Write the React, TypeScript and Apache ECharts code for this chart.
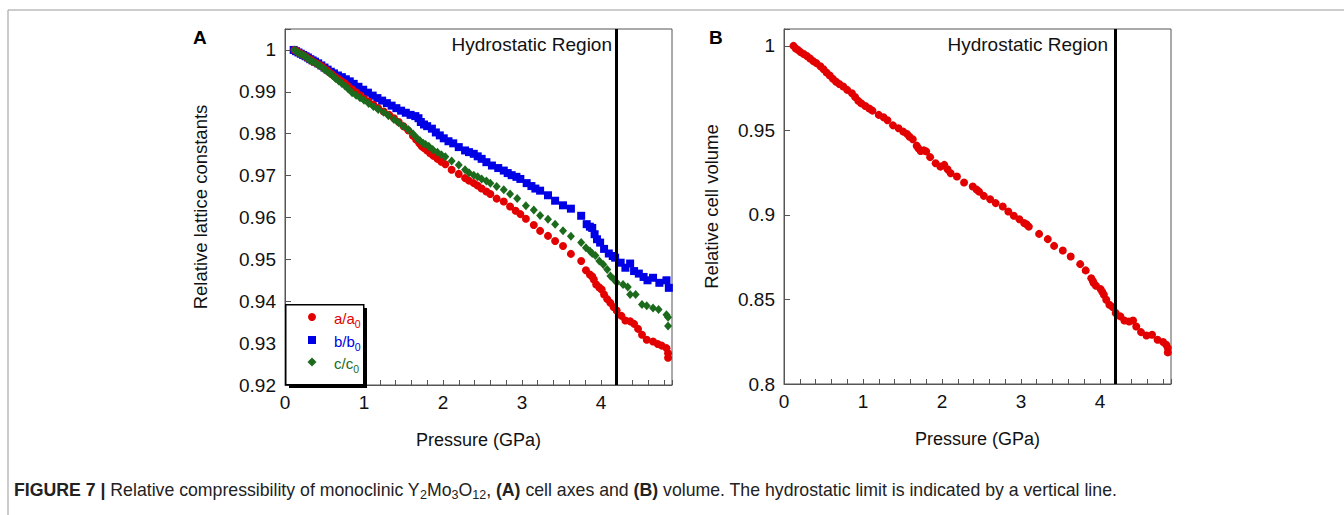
import React, { useEffect, useRef } from "react";
import * as echarts from "echarts";

// ---- Data ----
const pressureA = [0.12,0.15,0.18,0.21,0.24,0.27,0.30,0.33,0.36,0.40,0.44,0.48,0.52,0.56,0.60,0.64,0.68,0.72,0.76,0.80,0.85,0.90,0.95,1.00,1.06,1.12,1.18,1.25,1.32,1.38,1.44,1.50,1.56,1.62,1.66,1.70,1.73,1.76,1.80,1.84,1.88,1.93,1.98,2.03,2.11,2.20,2.28,2.33,2.39,2.44,2.49,2.55,2.60,2.68,2.77,2.85,2.92,2.98,3.05,3.15,3.23,3.33,3.42,3.52,3.62,3.75,3.81,3.86,3.89,3.91,3.94,3.98,4.01,4.04,4.08,4.12,4.16,4.20,4.26,4.31,4.37,4.42,4.47,4.52,4.58,4.66,4.72,4.77,4.83,4.85,4.85];
const aRatio = [1.0000,0.9997,0.9993,0.9990,0.9987,0.9983,0.9979,0.9976,0.9972,0.9968,0.9964,0.9959,0.9953,0.9947,0.9941,0.9935,0.9930,0.9925,0.9920,0.9913,0.9906,0.9899,0.9892,0.9884,0.9877,0.9869,0.9861,0.9853,0.9845,0.9837,0.9828,0.9818,0.9808,0.9795,0.9786,0.9777,0.9770,0.9766,0.9760,0.9753,0.9747,0.9740,0.9733,0.9727,0.9714,0.9704,0.9694,0.9688,0.9682,0.9676,0.9669,0.9662,0.9656,0.9645,0.9638,0.9626,0.9616,0.9608,0.9597,0.9582,0.9568,0.9556,0.9544,0.9532,0.9513,0.9496,0.9474,0.9464,0.9459,0.9452,0.9440,0.9433,0.9428,0.9416,0.9405,0.9396,0.9386,0.9378,0.9365,0.9354,0.9352,0.9346,0.9334,0.9320,0.9308,0.9304,0.9298,0.9294,0.9288,0.9276,0.9265];

const pressureB = [0.11,0.14,0.17,0.20,0.23,0.26,0.29,0.32,0.35,0.38,0.42,0.46,0.50,0.54,0.58,0.62,0.67,0.72,0.77,0.82,0.87,0.93,0.99,1.05,1.11,1.17,1.23,1.29,1.35,1.41,1.47,1.53,1.59,1.65,1.69,1.72,1.76,1.80,1.86,1.91,1.96,2.01,2.07,2.13,2.20,2.28,2.33,2.39,2.44,2.49,2.55,2.62,2.70,2.77,2.82,2.87,2.93,2.98,3.06,3.12,3.17,3.23,3.33,3.42,3.52,3.62,3.75,3.82,3.86,3.89,3.92,3.95,3.99,4.04,4.10,4.15,4.18,4.25,4.31,4.37,4.42,4.48,4.54,4.59,4.66,4.74,4.83,4.86];
const bRatio = [1.0000,0.9997,0.9994,0.9991,0.9988,0.9985,0.9982,0.9978,0.9975,0.9972,0.9968,0.9963,0.9958,0.9953,0.9948,0.9944,0.9939,0.9935,0.9930,0.9925,0.9919,0.9912,0.9905,0.9898,0.9891,0.9885,0.9879,0.9873,0.9867,0.9861,0.9855,0.9850,0.9845,0.9842,0.9837,0.9828,0.9822,0.9818,0.9812,0.9803,0.9796,0.9789,0.9782,0.9777,0.9768,0.9760,0.9756,0.9752,0.9746,0.9740,0.9732,0.9724,0.9718,0.9712,0.9706,0.9701,0.9697,0.9692,0.9682,0.9675,0.9669,0.9664,0.9653,0.9640,0.9629,0.9621,0.9604,0.9584,0.9578,0.9575,0.9560,0.9548,0.9540,0.9525,0.9514,0.9508,0.9504,0.9492,0.9480,0.9490,0.9472,0.9466,0.9458,0.9450,0.9456,0.9444,0.9450,0.9432];

const pressureC = [0.12,0.15,0.18,0.21,0.24,0.27,0.30,0.33,0.36,0.40,0.44,0.48,0.52,0.56,0.60,0.64,0.68,0.72,0.76,0.80,0.85,0.90,0.95,1.00,1.06,1.12,1.18,1.25,1.31,1.38,1.44,1.50,1.56,1.62,1.67,1.71,1.75,1.78,1.82,1.87,1.93,1.98,2.03,2.11,2.20,2.28,2.33,2.39,2.44,2.49,2.55,2.60,2.68,2.77,2.85,2.94,3.05,3.15,3.23,3.33,3.42,3.52,3.62,3.75,3.81,3.86,3.89,3.93,3.98,4.03,4.08,4.12,4.16,4.20,4.28,4.34,4.37,4.44,4.52,4.58,4.66,4.73,4.83,4.85,4.85];
const cRatio = [1.0000,0.9996,0.9992,0.9989,0.9986,0.9982,0.9978,0.9975,0.9971,0.9967,0.9962,0.9957,0.9951,0.9945,0.9939,0.9932,0.9926,0.9920,0.9914,0.9907,0.9898,0.9892,0.9886,0.9880,0.9872,0.9865,0.9858,0.9851,0.9843,0.9834,0.9826,0.9818,0.9810,0.9800,0.9790,0.9783,0.9777,0.9774,0.9770,0.9762,0.9756,0.9750,0.9745,0.9735,0.9725,0.9714,0.9707,0.9701,0.9697,0.9692,0.9687,0.9682,0.9674,0.9666,0.9656,0.9645,0.9628,0.9618,0.9605,0.9596,0.9584,0.9568,0.9555,0.9540,0.9528,0.9520,0.9514,0.9509,0.9496,0.9488,0.9476,0.9460,0.9453,0.9445,0.9440,0.9434,0.9416,0.9416,0.9392,0.9389,0.9384,0.9380,0.9368,0.9362,0.9341];

const pressureV = [0.12,0.15,0.18,0.21,0.25,0.29,0.33,0.37,0.41,0.46,0.50,0.54,0.58,0.62,0.66,0.70,0.75,0.80,0.86,0.90,0.94,0.98,1.03,1.08,1.12,1.20,1.26,1.31,1.38,1.45,1.51,1.56,1.59,1.63,1.68,1.70,1.73,1.77,1.80,1.85,1.92,1.98,2.03,2.07,2.11,2.19,2.28,2.39,2.44,2.47,2.53,2.61,2.68,2.77,2.84,2.91,2.98,3.04,3.07,3.10,3.23,3.34,3.42,3.53,3.63,3.75,3.82,3.89,3.91,3.92,3.95,4.01,4.03,4.05,4.08,4.12,4.16,4.20,4.26,4.31,4.37,4.42,4.46,4.52,4.59,4.66,4.73,4.80,4.84,4.86,4.86];
const volumeRatio = [1.0000,0.9985,0.9975,0.9963,0.9952,0.9940,0.9925,0.9910,0.9898,0.9880,0.9862,0.9842,0.9825,0.9805,0.9788,0.9775,0.9760,0.9740,0.9720,0.9698,0.9675,0.9660,0.9645,0.9630,0.9617,0.9592,0.9578,0.9560,0.9530,0.9513,0.9493,0.9478,0.9463,0.9448,0.9410,0.9395,0.9378,0.9382,0.9376,0.9342,0.9306,0.9286,0.9296,0.9270,0.9247,0.9227,0.9192,0.9168,0.9150,0.9138,0.9113,0.9093,0.9070,0.9050,0.9020,0.8995,0.8975,0.8952,0.8945,0.8931,0.8888,0.8857,0.8817,0.8790,0.8754,0.8709,0.8672,0.8626,0.8610,0.8597,0.8581,0.8561,0.8545,0.8528,0.8498,0.8469,0.8455,0.8420,0.8400,0.8376,0.8370,0.8376,0.8340,0.8307,0.8287,0.8291,0.8262,0.8248,0.8232,0.8213,0.8187];

const hydrostaticLimit = 4.2;
const seriesNames = ["a/a0", "b/b0", "c/c0"];

const FONT = "'Liberation Sans', Arial, Helvetica, sans-serif";
const RED = "#e30000";
const BLUE = "#0000e6";
const GREEN = "#1c6a1c";
const AXIS = "#555";

const zip = (xs: number[], ys: number[]) => xs.map((x, i) => [x, ys[i]]);

function xAxisFor(gridIndex: number) {
  return {
    type: "value",
    gridIndex,
    min: 0,
    max: 4.9,
    interval: 0.2,
    name: "Pressure (GPa)",
    nameLocation: "middle",
    nameGap: 46,
    nameTextStyle: { fontSize: 18, color: "#111", fontFamily: FONT },
    axisLine: { show: true, lineStyle: { color: AXIS, width: 1 } },
    axisTick: { show: true, inside: true, length: 5, lineStyle: { color: AXIS } },
    splitLine: { show: false },
    axisLabel: {
      fontSize: 19,
      color: "#111",
      fontFamily: FONT,
      margin: 8,
      formatter: (v: number) =>
        Math.abs(v - Math.round(v)) < 1e-6 ? String(Math.round(v)) : "",
    },
  };
}

function yAxisFor(gridIndex: number, min: number, max: number, interval: number, name: string, nameGap: number) {
  return {
    type: "value",
    gridIndex,
    min,
    max,
    interval,
    name,
    nameLocation: "middle",
    nameGap,
    nameTextStyle: { fontSize: 18.5, color: "#111", fontFamily: FONT },
    axisLine: { show: true, lineStyle: { color: AXIS, width: 1 } },
    axisTick: { show: true, inside: true, length: 6, lineStyle: { color: AXIS } },
    splitLine: { show: false },
    axisLabel: {
      fontSize: 19,
      color: "#111",
      fontFamily: FONT,
      margin: 9,
      formatter: (v: number) => (v > 1.0001 ? "" : String(parseFloat(v.toFixed(2)))),
    },
  };
}

const vLine = {
  silent: true,
  symbol: ["none", "none"],
  label: { show: false },
  lineStyle: { color: "#000", width: 3, type: "solid" },
  data: [{ xAxis: hydrostaticLimit }],
};

export default function App() {
  const ref = useRef<HTMLDivElement>(null);

  useEffect(() => {
    if (!ref.current) return;
    const chart = echarts.init(ref.current, undefined, { renderer: "svg" });

    const legendEntries = [
      { label: "a/a", color: RED, y: 317, marker: "circle" },
      { label: "b/b", color: BLUE, y: 340, marker: "rect" },
      { label: "c/c", color: GREEN, y: 362, marker: "diamond" },
    ];

    const legendGraphics: any[] = [
      { type: "rect", left: 289, top: 308, shape: { width: 78, height: 80 }, style: { fill: "#000" }, z: 10 },
      { type: "rect", left: 285, top: 304, shape: { width: 78, height: 80 }, style: { fill: "#fff", stroke: "#000", lineWidth: 1.5 }, z: 11 },
    ];
    legendEntries.forEach((e) => {
      if (e.marker === "circle") {
        legendGraphics.push({ type: "circle", shape: { cx: 312, cy: e.y, r: 4 }, style: { fill: e.color }, z: 12 });
      } else if (e.marker === "rect") {
        legendGraphics.push({ type: "rect", shape: { x: 308, y: e.y - 4, width: 8, height: 8 }, style: { fill: e.color }, z: 12 });
      } else {
        legendGraphics.push({ type: "polygon", shape: { points: [[312, e.y - 4.5], [316.5, e.y], [312, e.y + 4.5], [307.5, e.y]] }, style: { fill: e.color }, z: 12 });
      }
      legendGraphics.push({
        type: "text",
        x: 334,
        y: e.y + 1,
        z: 12,
        style: {
          text: `{t|${e.label}}{s|0}`,
          fill: e.color,
          verticalAlign: "middle",
          rich: {
            t: { fontSize: 15, fontFamily: FONT, fill: e.color },
            s: { fontSize: 10.5, fontFamily: FONT, fill: e.color, padding: [11, 0, 0, 0] },
          },
        },
      });
    });

    const option: any = {
      animation: false,
      backgroundColor: "#fff",
      textStyle: { fontFamily: FONT },
      grid: [
        { left: 285, top: 29, width: 387, height: 356, show: true, borderColor: AXIS, borderWidth: 1, backgroundColor: "transparent" },
        { left: 784, top: 29, width: 387, height: 355, show: true, borderColor: AXIS, borderWidth: 1, backgroundColor: "transparent" },
      ],
      xAxis: [xAxisFor(0), xAxisFor(1)],
      yAxis: [
        yAxisFor(0, 0.92, 1.005, 0.01, "Relative lattice constants", 75),
        yAxisFor(1, 0.8, 1.01, 0.05, "Relative cell volume", 63),
      ],
      series: [
        {
          name: seriesNames[0], type: "scatter", xAxisIndex: 0, yAxisIndex: 0,
          symbol: "circle", symbolSize: 8, itemStyle: { color: RED, opacity: 1 },
          data: zip(pressureA, aRatio), z: 3,
          markLine: vLine,
        },
        {
          name: seriesNames[1], type: "scatter", xAxisIndex: 0, yAxisIndex: 0,
          symbol: "rect", symbolSize: 8, itemStyle: { color: BLUE, opacity: 1 },
          data: zip(pressureB, bRatio), z: 2,
        },
        {
          name: seriesNames[2], type: "scatter", xAxisIndex: 0, yAxisIndex: 0,
          symbol: "diamond", symbolSize: [8, 9], itemStyle: { color: GREEN, opacity: 1 },
          data: zip(pressureC, cRatio), z: 4,
        },
        {
          name: "V/V0", type: "scatter", xAxisIndex: 1, yAxisIndex: 1,
          symbol: "circle", symbolSize: 8, itemStyle: { color: RED, opacity: 1 },
          data: zip(pressureV, volumeRatio),
          markLine: vLine,
        },
      ],
      graphic: [
        { type: "line", shape: { x1: 8, y1: 10, x2: 1344, y2: 10 }, style: { stroke: "#999", lineWidth: 1 } },
        { type: "line", shape: { x1: 8, y1: 10, x2: 8, y2: 515 }, style: { stroke: "#999", lineWidth: 1 } },
        { type: "text", x: 193, y: 37, style: { text: "A", fontSize: 19, fontWeight: "bold", fontFamily: FONT, fill: "#000", verticalAlign: "middle" } },
        { type: "text", x: 709, y: 37, style: { text: "B", fontSize: 19, fontWeight: "bold", fontFamily: FONT, fill: "#000", verticalAlign: "middle" } },
        { type: "text", x: 612, y: 44, style: { text: "Hydrostatic Region", fontSize: 19, fontFamily: FONT, fill: "#111", align: "right", verticalAlign: "middle" } },
        { type: "text", x: 1108, y: 44, style: { text: "Hydrostatic Region", fontSize: 19, fontFamily: FONT, fill: "#111", align: "right", verticalAlign: "middle" } },
        ...legendGraphics,
        {
          type: "text",
          x: 14,
          y: 490,
          style: {
            text:
              "{b|FIGURE 7 |} Relative compressibility of monoclinic Y{s|2}Mo{s|3}O{s|12}, {b|(A)} cell axes and {b|(B)} volume. The hydrostatic limit is indicated by a vertical line.",
            fontSize: 17.7,
            fontFamily: FONT,
            fill: "#222",
            verticalAlign: "middle",
            rich: {
              b: { fontSize: 17.7, fontWeight: "bold", fontFamily: FONT, fill: "#222" },
              s: { fontSize: 12.5, fontFamily: FONT, fill: "#222", padding: [10, 0, 0, 0] },
            },
          },
        },
      ],
    };

    chart.setOption(option);
    return () => chart.dispose();
  }, []);

  return (
    <div
      ref={ref}
      style={{ position: "absolute", left: 0, top: 0, width: 1344, height: 515, background: "#fff" }}
    />
  );
}
